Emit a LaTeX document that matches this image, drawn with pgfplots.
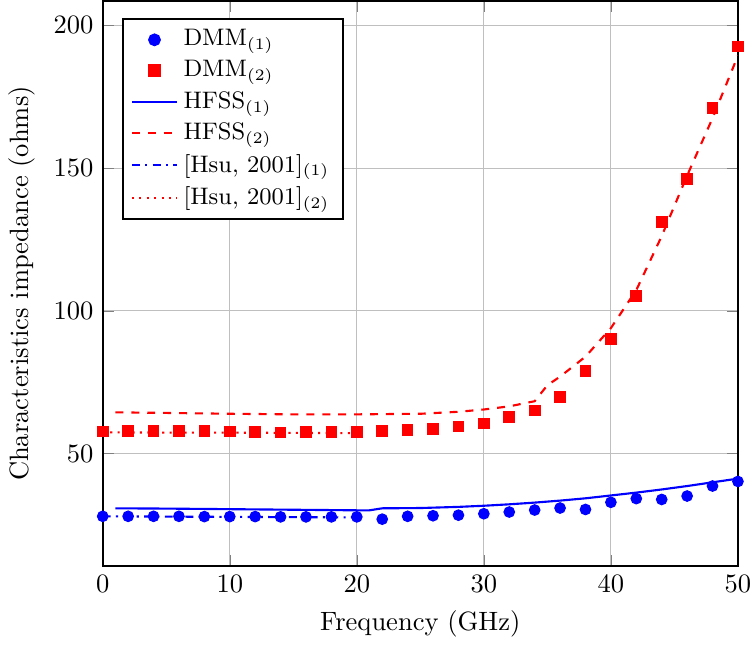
\documentclass[border=0pt]{standalone}
\usepackage{pgfplots}
\pgfplotsset{compat=1.18}
\begin{document}
\begin{tikzpicture}[trim right=(R)]
\begin{axis}[
  scale only axis,
  width=239.5pt, height=213pt,
  xmin=0, xmax=50, ymin=10.7, ymax=208.5,
  xtick={0,10,20,30,40,50},
  ytick={50,100,150,200},
  grid=major,
  axis line style={thick},
  xlabel={Frequency (GHz)},
  ylabel={Characteristics impedance (ohms)},
  legend style={at={(0.03,0.97)}, anchor=north west, draw=black, thick, font=\small, cells={anchor=west}},
  legend cell align=left,
]
\addplot[only marks, mark=*, blue, mark size=2pt] coordinates {
(0,28.1)(2,28.1)(4,28.1)(6,28.1)(8,28.0)(10,28.0)(12,28.0)(14,27.9)(16,27.9)(18,27.9)(20,27.9)
(22,27.1)(24,28.1)(26,28.3)(28,28.5)(30,29.0)(32,29.6)(34,30.3)(36,31.0)(38,30.5)(40,33.0)
(42,34.3)(44,34.0)(46,35.2)(48,38.7)(50,40.3)};
\addlegendentry{DMM$_{(1)}$}
\addplot[only marks, mark=square*, red, mark size=2pt] coordinates {
(0,57.8)(2,58.0)(4,58.0)(6,57.9)(8,57.9)(10,57.8)(12,57.7)(14,57.5)(16,57.6)(18,57.6)(20,57.6)
(22,58.0)(24,58.4)(26,58.7)(28,59.5)(30,60.6)(32,62.9)(34,65.2)(36,69.8)(38,79.0)(40,90.2)
(42,105.2)(44,131.1)(46,146.2)(48,171.0)(50,192.6)};
\addlegendentry{DMM$_{(2)}$}
\addplot[blue, thick] coordinates {
(1,30.9)(5,30.8)(10,30.6)(15,30.4)(20,30.2)(21,30.2)(22,30.9)(25,31.0)(28,31.4)(30,31.8)
(32,32.3)(34,32.9)(36,33.6)(38,34.4)(40,35.4)(42,36.4)(44,37.5)(46,38.7)(48,40.0)(50,41.3)};
\addlegendentry{HFSS$_{(1)}$}
\addplot[red, thick, dashed] coordinates {
(1,64.5)(5,64.3)(10,64.0)(15,63.8)(20,63.8)(25,64.0)(28,64.7)(30,65.5)(32,66.6)(34,68.4)
(35,74)(36,77)(38,84)(40,94)(42,107.3)(44,126.2)(46,147.4)(48,167.5)(50,189.4)};
\addlegendentry{HFSS$_{(2)}$}
\addplot[blue, thick, dashdotted] coordinates {
(0,28.1)(5,28.0)(10,27.9)(15,27.8)(20,27.7)};
\addlegendentry{[Hsu, 2001]$_{(1)}$}
\addplot[red, thick, dotted] coordinates {
(0,57.5)(5,57.4)(10,57.4)(15,57.3)(20,57.2)};
\addlegendentry{[Hsu, 2001]$_{(2)}$}
\end{axis}
\coordinate (R) at ([xshift=5.3pt]current axis.east);
\end{tikzpicture}
\end{document}
